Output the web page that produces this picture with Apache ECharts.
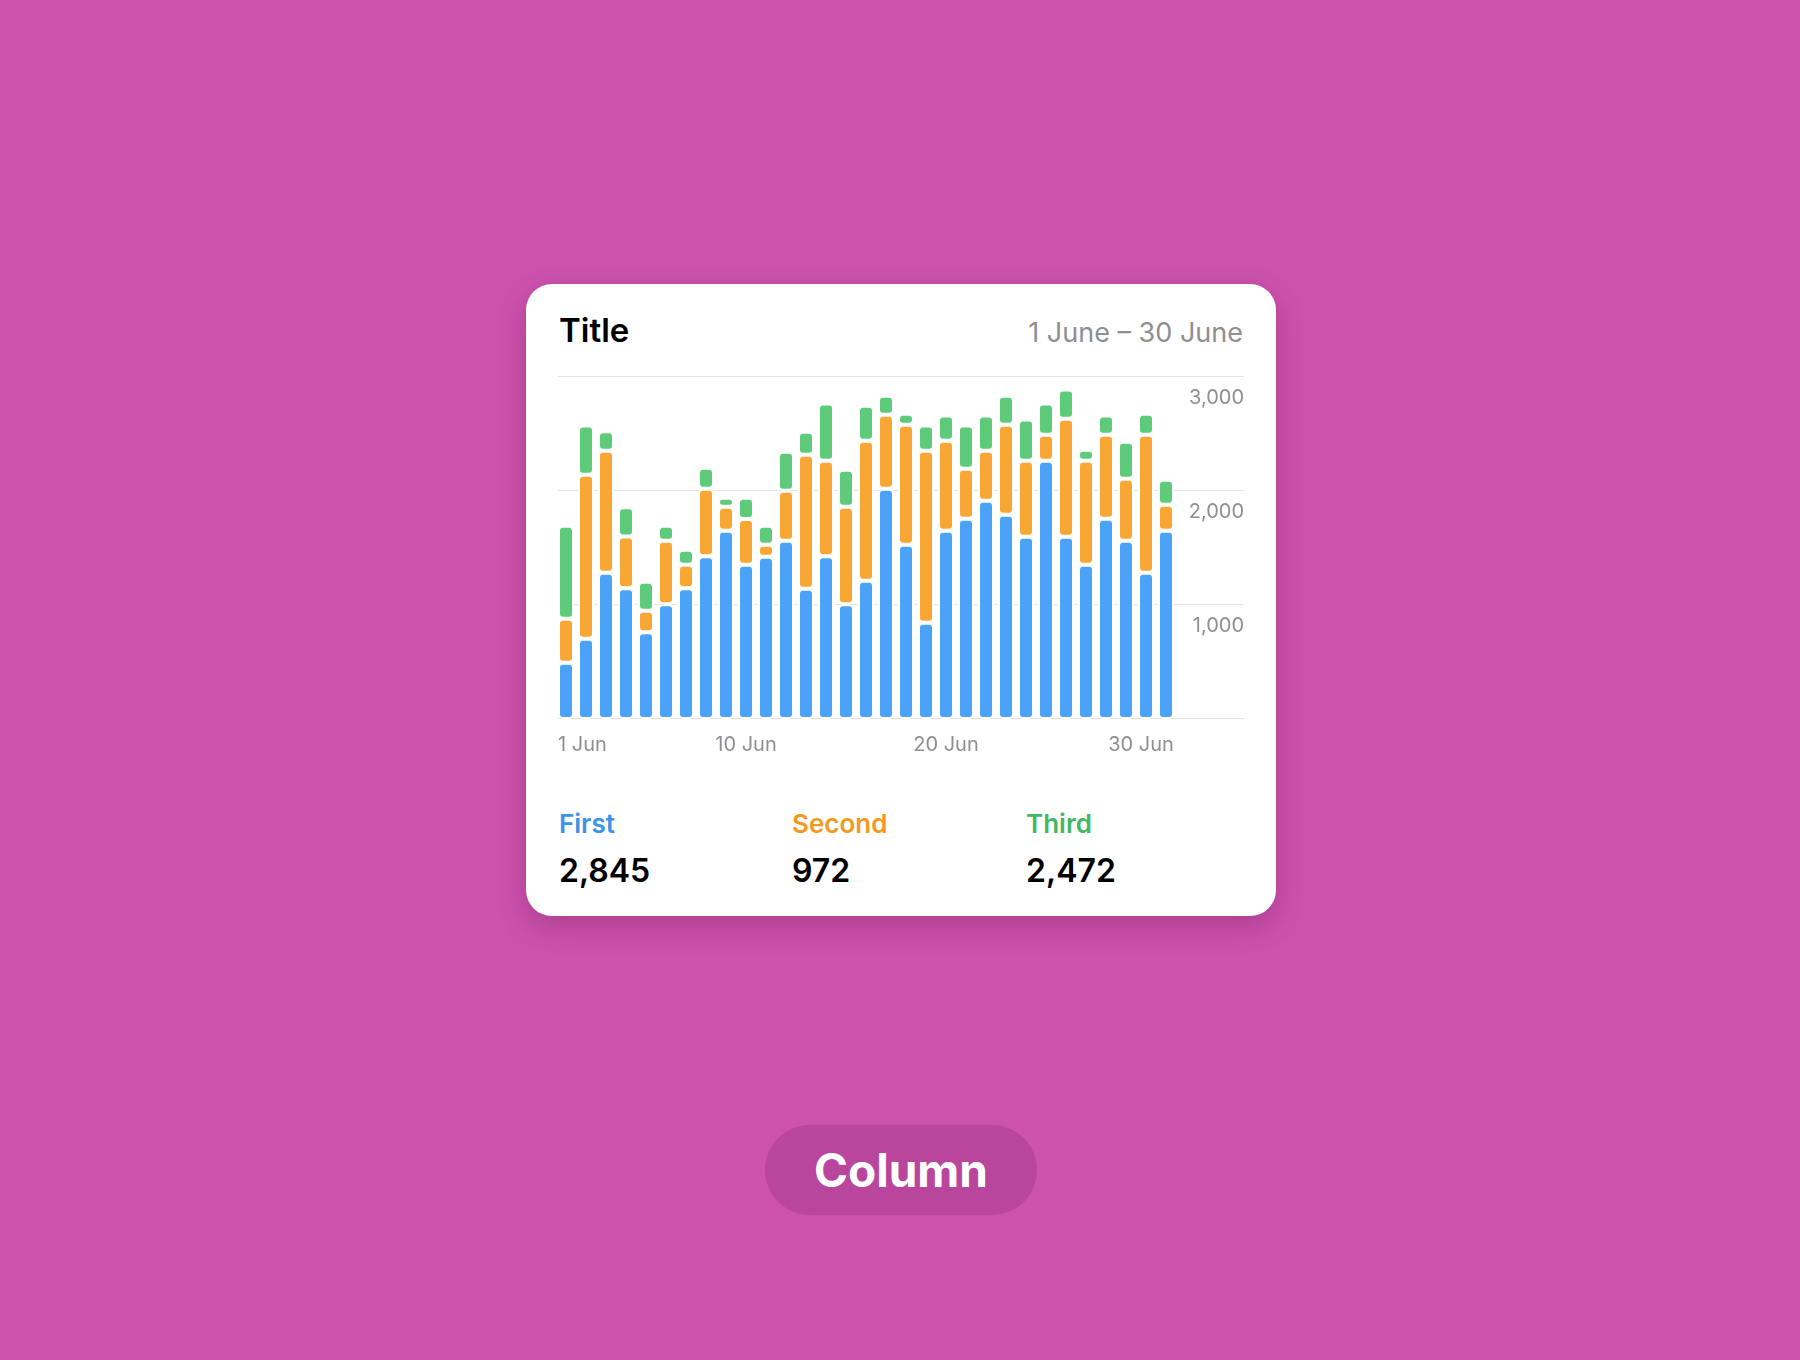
<!DOCTYPE html>
<html>
<head>
<meta charset="utf-8">
<script src="https://cdn.jsdelivr.net/npm/echarts@6/dist/echarts.min.js"></script>
<style>
html,body{margin:0;padding:0;width:1800px;height:1360px;background:#cc52ad;overflow:hidden;font-family:Inter,"Noto Sans",sans-serif;}
#card{position:absolute;left:526px;top:284px;width:750px;height:632px;background:#fff;border-radius:26px;box-shadow:0 10px 28px rgba(90,10,70,0.28);}
#chart{position:absolute;left:0;top:0;width:1800px;height:1360px;}
.t{position:absolute;white-space:nowrap;line-height:1;}
#title{left:559px;top:314px;font-size:33px;font-weight:600;color:#000;}
#range{right:557px;top:319px;font-size:27px;font-weight:400;color:#8e8e93;}
.lname{top:811px;font-size:26px;font-weight:600;}
.lval{top:855px;font-size:32px;font-weight:600;color:#000;}
#pill{position:absolute;left:765px;top:1125px;width:272px;height:90px;border-radius:45px;background:#b9459d;color:#fff;font-size:46px;font-weight:700;line-height:90px;text-align:center;}
</style>
</head>
<body>
<div id="card"></div>
<div class="t" id="title"></div>
<div class="t" id="range"></div>
<div id="legend"></div>
<div id="pill"></div>
<div id="chart"></div>
<script>
// ---- data ----
const titleText = 'Title';
const dateRange = '1 June \u2013 30 June';
const pillText = 'Column';
const days = ['1','2','3','4','5','6','7','8','9','10','11','12','13','14','15','16','17','18','19','20','21','22','23','24','25','26','27','28','29','30','31'];
const firstData  = [492,702,1280,1143,758,1003,1143,1423,1647,1350,1420,1560,1140,1423,1003,1210,2014,1525,842,1647,1752,1909,1787,1595,2259,1595,1350,1752,1560,1280,1647];
const secondData = [385,1435,1067,454,189,557,207,591,210,400,105,437,1172,836,854,1224,648,1049,1505,787,437,438,787,664,228,1032,909,735,542,1207,227];
const thirdData  = [814,430,169,254,254,131,131,184,79,186,166,341,201,500,324,306,166,96,220,220,378,307,254,360,272,254,97,167,324,183,219];
const seriesNames = ['First','Second','Third'];
const totals = [2845, 972, 2472];
const xTickIndex = [0, 9, 19, 29];
const xTickLabels = ['1 Jun','10 Jun','20 Jun','30 Jun'];

// ---- styles ----
const colors = ['#4ba3f7', '#f8a634', '#5dcb79'];
const nameColors = ['#3a93ea', '#f09a22', '#42b862'];
const grey = '#8e8e93';
const font = 'Inter';

document.getElementById('title').textContent = titleText;
document.getElementById('range').textContent = dateRange;
document.getElementById('pill').textContent = pillText;
const legend = document.getElementById('legend');
const legendLeft = [559, 792, 1026];
seriesNames.forEach((n, i) => {
  const a = document.createElement('div');
  a.className = 't lname'; a.style.left = legendLeft[i] + 'px'; a.style.color = nameColors[i];
  a.textContent = n; legend.appendChild(a);
  const b = document.createElement('div');
  b.className = 't lval'; b.style.left = legendLeft[i] + 'px';
  b.textContent = totals[i].toLocaleString('en-US'); legend.appendChild(b);
});

const chart = echarts.init(document.getElementById('chart'), null, {renderer: 'canvas'});
const labelStyle = {fontSize: 20, color: grey, fontFamily: font};
const seriesData = [firstData, secondData, thirdData];
const option = {
  animation: false,
  grid: [
    {left: 556, right: 624, top: 376, bottom: 641},
    {left: 558, right: 556, top: 376, bottom: 642}
  ],
  xAxis: [
    {
      type: 'category', gridIndex: 0, data: days, boundaryGap: true,
      axisLine: {show: false}, axisTick: {show: false}, splitLine: {show: false},
      axisLabel: {
        interval: (i) => xTickIndex.indexOf(i) >= 0,
        margin: 16,
        fontSize: 20, color: grey, fontFamily: font,
        formatter: (v, i) => {
          const k = xTickIndex.indexOf(i);
          if (k < 0) return '';
          if (k === 0) return '{a|' + xTickLabels[k] + '}';
          if (k === xTickLabels.length - 1) return '{b|' + xTickLabels[k] + '}';
          return '{c|' + xTickLabels[k] + '}';
        },
        rich: {
          a: Object.assign({padding: [0, 0, 0, 33]}, labelStyle),
          b: Object.assign({padding: [0, 10, 0, 0]}, labelStyle),
          c: Object.assign({}, labelStyle)
        }
      }
    },
    {type: 'value', gridIndex: 1, show: false, min: 0, max: 1}
  ],
  yAxis: [
    {type: 'value', gridIndex: 0, min: 0, max: 3000, interval: 1000, show: false},
    {
      type: 'value', gridIndex: 1, min: 0, max: 3000, interval: 1000, position: 'right',
      axisLine: {show: false}, axisTick: {show: false},
      splitLine: {show: true, lineStyle: {color: '#e4e4e8', width: 1}},
      axisLabel: {
        inside: true, margin: 0, align: 'right', verticalAlign: 'top', padding: [12, 0, 0, 0],
        fontSize: 20, color: grey, fontFamily: font,
        formatter: (v) => v === 0 ? '' : v.toLocaleString('en-US')
      }
    }
  ],
  series: seriesNames.map((n, i) => ({
    name: n, type: 'bar', stack: 'total', xAxisIndex: 0, yAxisIndex: 0,
    barWidth: 16, data: seriesData[i],
    itemStyle: {color: colors[i], borderColor: '#ffffff', borderWidth: 2, borderRadius: 4},
    emphasis: {disabled: true}
  }))
};
chart.setOption(option);
</script>
</body>
</html>
